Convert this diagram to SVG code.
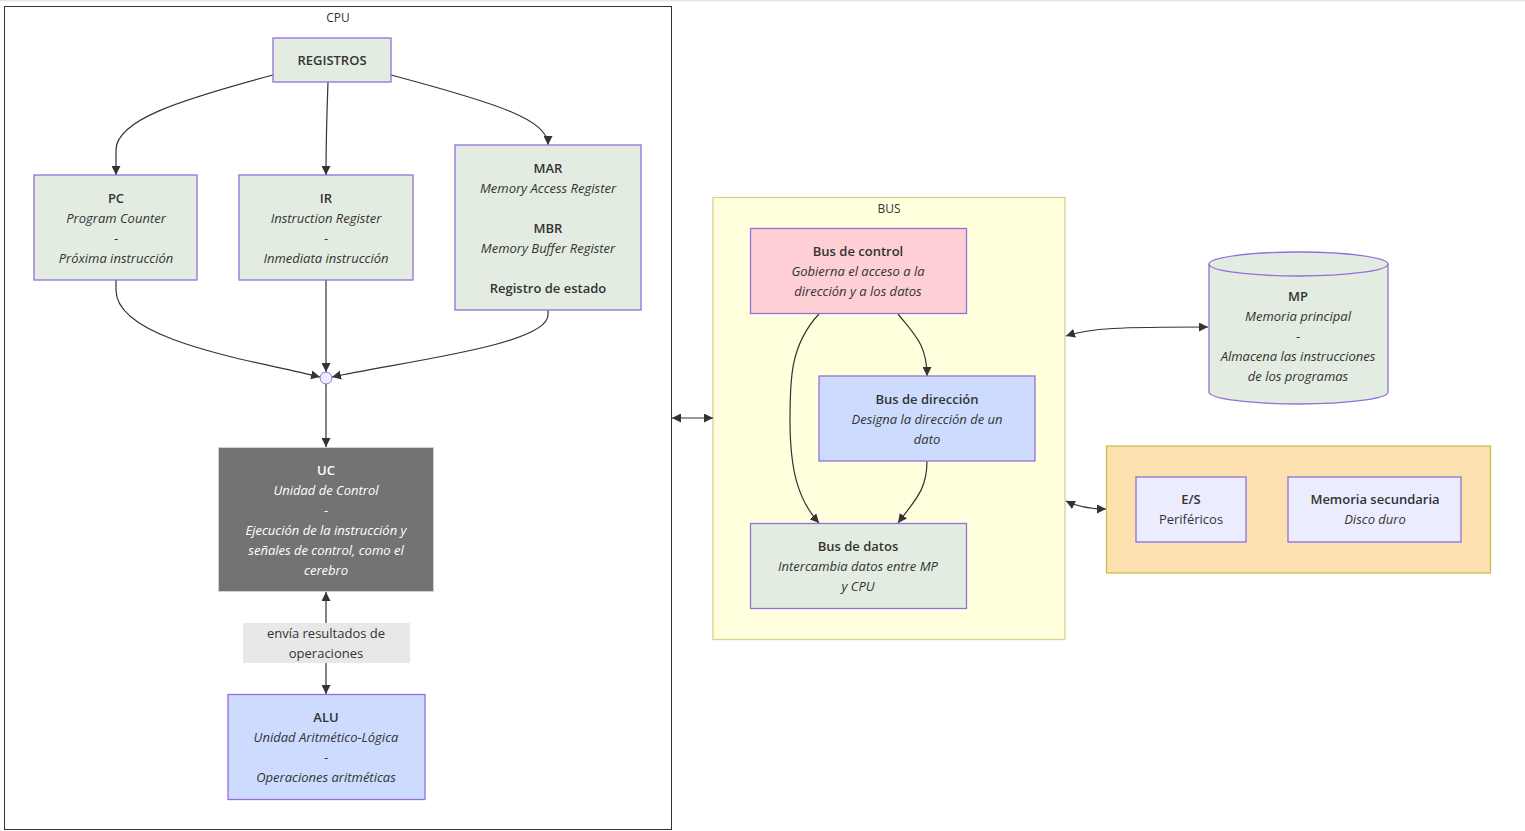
<svg xmlns="http://www.w3.org/2000/svg" width="1525" height="831" viewBox="0 0 1525 831">
<style>
text{font-family:"Open Sans","Noto Sans","Liberation Sans",sans-serif;font-size:13px;fill:#333;text-anchor:middle}
.b{font-weight:600}
.i{font-style:italic}
.w{fill:#fff}
.node{stroke:#9370DB;stroke-width:1.3}
.g{fill:#e3ece0}
.bl{fill:#cddcfe}
.pk{fill:#ffcfd6}
.lv{fill:#ececff}
.edge{fill:none;stroke:#333;stroke-width:1.2}
.cl{font-size:12px}
</style>
<defs>
<marker id="ah" markerUnits="userSpaceOnUse" markerWidth="9" markerHeight="9" refX="9" refY="4.5" orient="auto-start-reverse" viewBox="0 0 9 9">
<path d="M0,0 L9,4.5 L0,9 z" fill="#333"/>
</marker>
</defs>
<rect x="0" y="0" width="1525" height="1.5" fill="#e6e6e6"/>
<g id="cluster-cpu">
<rect x="4.5" y="6.5" width="667" height="823" fill="#fff" stroke="#333" stroke-width="1"/>
<text x="338" y="22" class="cl">CPU</text>
</g>
<g id="cluster-bus">
<rect x="713" y="197.5" width="352" height="442" fill="#ffffde" stroke="#d3d38a" stroke-width="1.3"/>
<text x="889" y="213" class="cl">BUS</text>
</g>
<g id="cluster-ext">
<rect x="1106.5" y="446" width="384" height="127" fill="#fde0b0" stroke="#c9c04a" stroke-width="1.3"/>
</g>
<g id="connectors">
<path class="edge" d="M273,75 C180,100 116,120 116,150 L116,175" marker-end="url(#ah)"/>
<path class="edge" d="M328,82 C327,110 326,140 326,175" marker-end="url(#ah)"/>
<path class="edge" d="M391,75 C500,104 548,120 548,145" marker-end="url(#ah)"/>
<path class="edge" d="M116,280 L116,290 C116,340 250,360 320,377" marker-end="url(#ah)"/>
<path class="edge" d="M326,280 L326,372" marker-end="url(#ah)"/>
<path class="edge" d="M548,310 L548,315 C548,345 400,362 332,377" marker-end="url(#ah)"/>
<path class="edge" d="M326,384 L326,447" marker-end="url(#ah)"/>
<path class="edge" d="M326,592 L326,694" marker-start="url(#ah)" marker-end="url(#ah)"/>
<path class="edge" d="M819,314 C790,345 790,380 790,420 C790,470 798,500 819,523" marker-end="url(#ah)"/>
<path class="edge" d="M898,314 C915,335 927,345 927,376" marker-end="url(#ah)"/>
<path class="edge" d="M927,461 C927,490 915,500 898,523" marker-end="url(#ah)"/>
<path class="edge" d="M672,418 L713,418" marker-start="url(#ah)" marker-end="url(#ah)"/>
<path class="edge" d="M1066,336 C1090,328 1120,327 1208,327" marker-start="url(#ah)" marker-end="url(#ah)"/>
<path class="edge" d="M1066,501 C1080,508 1095,509 1106,509" marker-start="url(#ah)" marker-end="url(#ah)"/>
</g>
<g id="edge-label">
<rect x="243" y="623" width="167" height="40" fill="#e8e8e8"/>
<text x="326" y="638">envía resultados de</text>
<text x="326" y="658">operaciones</text>
</g>
<g id="REGISTROS">
<rect class="node g" x="273" y="38" width="118" height="44"/>
<text x="332" y="65" class="b">REGISTROS</text>
</g>
<g id="PC">
<rect class="node g" x="34" y="175" width="163" height="105"/>
<text x="116" y="203" class="b">PC</text>
<text x="116" y="223" class="i">Program Counter</text>
<text x="116" y="243">-</text>
<text x="116" y="263" class="i">Próxima instrucción</text>
</g>
<g id="IR">
<rect class="node g" x="239" y="175" width="174" height="105"/>
<text x="326" y="203" class="b">IR</text>
<text x="326" y="223" class="i">Instruction Register</text>
<text x="326" y="243">-</text>
<text x="326" y="263" class="i">Inmediata instrucción</text>
</g>
<g id="MAR">
<rect class="node g" x="455" y="145" width="186" height="165"/>
<text x="548" y="173" class="b">MAR</text>
<text x="548" y="193" class="i">Memory Access Register</text>
<text x="548" y="233" class="b">MBR</text>
<text x="548" y="253" class="i">Memory Buffer Register</text>
<text x="548" y="293" class="b">Registro de estado</text>
</g>
<g id="junction">
<circle cx="326" cy="378" r="6" fill="#ececff" stroke="#9370DB" stroke-width="1"/>
</g>
<g id="UC">
<rect x="218.5" y="447.5" width="215" height="144" fill="#737373" stroke="#d0d0d0" stroke-width="1"/>
<text x="326" y="475" class="b w">UC</text>
<text x="326" y="495" class="i w">Unidad de Control</text>
<text x="326" y="515" class="w">-</text>
<text x="326" y="535" class="i w">Ejecución de la instrucción y</text>
<text x="326" y="555" class="i w">señales de control, como el</text>
<text x="326" y="575" class="i w">cerebro</text>
</g>
<g id="ALU">
<rect class="node bl" x="228" y="694.5" width="197" height="105"/>
<text x="326" y="722" class="b">ALU</text>
<text x="326" y="742" class="i">Unidad Aritmético-Lógica</text>
<text x="326" y="762">-</text>
<text x="326" y="782" class="i">Operaciones aritméticas</text>
</g>
<g id="BusControl">
<rect class="node pk" x="750.5" y="228.5" width="216" height="85"/>
<text x="858" y="256" class="b">Bus de control</text>
<text x="858" y="276" class="i">Gobierna el acceso a la</text>
<text x="858" y="296" class="i">dirección y a los datos</text>
</g>
<g id="BusDireccion">
<rect class="node bl" x="819" y="376" width="216" height="85"/>
<text x="927" y="404" class="b">Bus de dirección</text>
<text x="927" y="424" class="i">Designa la dirección de un</text>
<text x="927" y="444" class="i">dato</text>
</g>
<g id="BusDatos">
<rect class="node g" x="750.5" y="523.5" width="216" height="85"/>
<text x="858" y="551" class="b">Bus de datos</text>
<text x="858" y="571" class="i">Intercambia datos entre MP</text>
<text x="858" y="591" class="i">y CPU</text>
</g>
<g id="MP">
<path class="node g" d="M1209,264 A89.5,12 0 0 1 1388,264 L1388,392 A89.5,12 0 0 1 1209,392 Z"/>
<path d="M1209,264 A89.5,12 0 0 0 1388,264" fill="none" stroke="#9370DB" stroke-width="1.3"/>
<text x="1298" y="301" class="b">MP</text>
<text x="1298" y="321" class="i">Memoria principal</text>
<text x="1298" y="341">-</text>
<text x="1298" y="361" class="i">Almacena las instrucciones</text>
<text x="1298" y="381" class="i">de los programas</text>
</g>
<g id="ES">
<rect class="node lv" x="1136" y="477" width="110" height="65"/>
<text x="1191" y="504" class="b">E/S</text>
<text x="1191" y="524">Periféricos</text>
</g>
<g id="MemSec">
<rect class="node lv" x="1288" y="477" width="173" height="65"/>
<text x="1375" y="504" class="b">Memoria secundaria</text>
<text x="1375" y="524" class="i">Disco duro</text>
</g>
</svg>
